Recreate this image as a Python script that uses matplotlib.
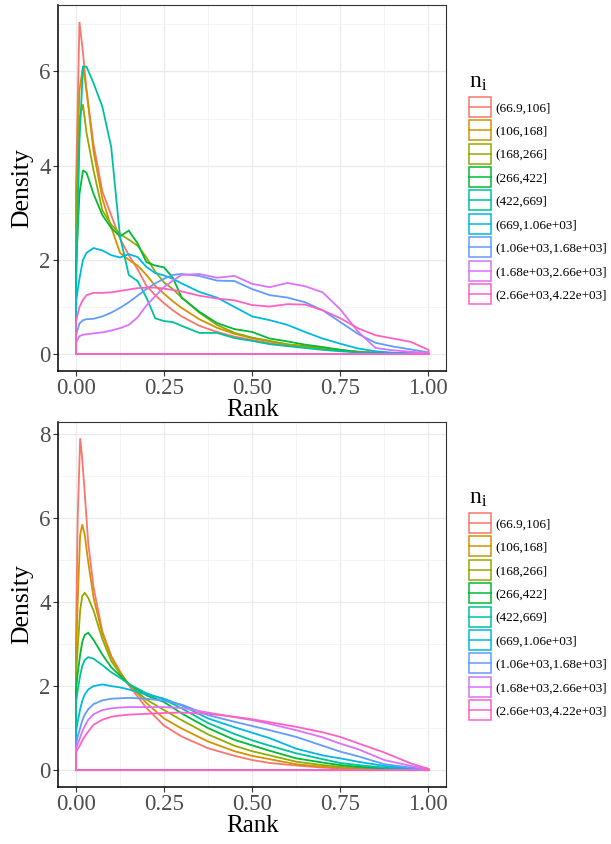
import matplotlib
matplotlib.use('Agg')
import matplotlib.pyplot as plt
from matplotlib.lines import Line2D
from matplotlib.patches import Rectangle
from matplotlib.legend_handler import HandlerBase

plt.rcParams['font.family'] = ['Liberation Serif', 'DejaVu Serif']
plt.rcParams['mathtext.fontset'] = 'custom'
plt.rcParams['mathtext.rm'] = 'Liberation Serif'
plt.rcParams['mathtext.it'] = 'Liberation Serif:italic'

# groups (n_i bins) and ggplot hue colours
groups = ['(66.9,106]', '(106,168]', '(168,266]', '(266,422]', '(422,669]',
          '(669,1.06e+03]', '(1.06e+03,1.68e+03]', '(1.68e+03,2.66e+03]',
          '(2.66e+03,4.22e+03]']
colors = ['#F8766D', '#D39200', '#93AA00', '#00BA38', '#00C19F',
          '#00B9E3', '#619CFF', '#DB72FB', '#FF61C3']

# top panel: density at these ranks
rank_top = [0, .01, .02, .03, .05, .075, .1, .125, .15, .175, .2, .225, .25, .275, .3,
            .35, .4, .45, .5, .55, .6, .65, .7, .75, .8, .85, .9, .95, 1.0]
top_red = [3.5, 7.05, 6.4, 5.6, 4.45, 3.45, 2.95, 2.45, 2.1, 1.8, 1.45, 1.25, 1.08, 0.93, 0.8,
           0.6, 0.47, 0.37, 0.3, 0.23, 0.18, 0.14, 0.11, 0.08, 0.05, 0.03, 0.02, 0.01, 0.005]
top_orange = [3.0, 5.6, 6.1, 5.6, 4.3, 3.3, 2.7, 2.15, 2.0, 1.88, 1.68, 1.45, 1.28, 1.12, 0.98,
              0.74, 0.56, 0.43, 0.34, 0.27, 0.2, 0.16, 0.12, 0.08, 0.05, 0.03, 0.02, 0.01, 0.005]
top_olive = [2.5, 5.0, 5.3, 4.7, 3.9, 3.05, 2.75, 2.55, 2.43, 2.3, 2.05, 1.75, 1.52, 1.38, 1.2,
             0.88, 0.62, 0.45, 0.35, 0.28, 0.21, 0.17, 0.13, 0.09, 0.05, 0.03, 0.02, 0.01, 0.005]
top_green = [1.8, 3.4, 3.9, 3.85, 3.4, 2.95, 2.68, 2.5, 2.62, 2.35, 1.95, 1.88, 1.84, 1.62, 1.2,
             0.9, 0.66, 0.53, 0.47, 0.33, 0.27, 0.2, 0.15, 0.09, 0.04, 0.02, 0.01, 0.005, 0.003]
top_teal = [1.2, 4.5, 6.1, 6.1, 5.75, 5.25, 4.4, 2.5, 1.68, 1.55, 1.2, 0.76, 0.7, 0.68, 0.6,
            0.45, 0.45, 0.34, 0.28, 0.21, 0.17, 0.13, 0.09, 0.06, 0.035, 0.02, 0.01, 0.005, 0.003]
top_cyan = [1.1, 1.6, 2.0, 2.15, 2.25, 2.2, 2.1, 2.05, 2.12, 2.06, 1.85, 1.72, 1.67, 1.6, 1.5,
            1.32, 1.2, 1.0, 0.8, 0.72, 0.62, 0.47, 0.33, 0.22, 0.12, 0.06, 0.03, 0.015, 0.01]
top_blue = [0.4, 0.65, 0.72, 0.74, 0.75, 0.8, 0.88, 0.98, 1.1, 1.24, 1.38, 1.5, 1.6, 1.68, 1.70,
            1.66, 1.56, 1.55, 1.38, 1.25, 1.2, 1.1, 0.93, 0.68, 0.43, 0.24, 0.16, 0.1, 0.035]
top_purple = [0.24, 0.38, 0.41, 0.42, 0.44, 0.46, 0.5, 0.55, 0.62, 0.78, 1.03, 1.23, 1.42, 1.56, 1.68,
              1.70, 1.62, 1.66, 1.49, 1.42, 1.51, 1.44, 1.31, 0.95, 0.48, 0.13, 0.08, 0.05, 0.02]
top_pink = [0.69, 1.0, 1.15, 1.25, 1.3, 1.3, 1.31, 1.34, 1.37, 1.4, 1.41, 1.41, 1.39, 1.36, 1.33,
            1.24, 1.18, 1.14, 1.04, 1.01, 1.06, 1.05, 0.93, 0.76, 0.55, 0.4, 0.33, 0.26, 0.09]

# bottom panel
rank_bot = [0, .005, .012, .018, .025, .035, .05, .075, .1, .125, .15, .2, .25, .3, .375,
            .45, .5, .55, .625, .7, .75, .8, .875, .95, 1.0]
bot_red = [3.0, 6.0, 7.9, 7.4, 6.6, 5.4, 4.35, 3.3, 2.72, 2.35, 2.02, 1.48, 1.06, 0.8, 0.52,
           0.34, 0.24, 0.17, 0.11, 0.06, 0.04, 0.025, 0.015, 0.01, 0.005]
bot_orange = [2.6, 4.0, 5.6, 5.85, 5.6, 4.95, 4.1, 3.25, 2.7, 2.32, 2.05, 1.6, 1.23, 0.99, 0.68,
              0.45, 0.34, 0.26, 0.14, 0.08, 0.05, 0.035, 0.015, 0.01, 0.005]
bot_olive = [2.2, 2.9, 3.8, 4.15, 4.22, 4.1, 3.8, 3.12, 2.6, 2.3, 2.04, 1.68, 1.43, 1.19, 0.85,
             0.58, 0.45, 0.35, 0.2, 0.12, 0.08, 0.05, 0.02, 0.01, 0.005]
bot_green = [1.9, 2.3, 2.75, 3.05, 3.22, 3.27, 3.1, 2.75, 2.45, 2.25, 2.05, 1.78, 1.62, 1.35, 1.0,
             0.72, 0.59, 0.46, 0.28, 0.18, 0.12, 0.08, 0.04, 0.015, 0.008]
bot_teal = [1.6, 1.9, 2.25, 2.48, 2.62, 2.69, 2.65, 2.5, 2.33, 2.2, 2.05, 1.83, 1.68, 1.47, 1.12,
            0.86, 0.71, 0.58, 0.4, 0.26, 0.17, 0.12, 0.06, 0.025, 0.01]
bot_cyan = [0.9, 1.15, 1.45, 1.65, 1.8, 1.92, 2.0, 2.04, 2.0, 1.97, 1.92, 1.8, 1.70, 1.54, 1.23,
            1.02, 0.89, 0.76, 0.51, 0.35, 0.28, 0.2, 0.1, 0.04, 0.015]
bot_blue = [0.6, 0.8, 1.0, 1.18, 1.32, 1.45, 1.57, 1.66, 1.7, 1.71, 1.72, 1.7, 1.65, 1.56, 1.31,
            1.15, 1.05, 0.95, 0.79, 0.58, 0.44, 0.33, 0.14, 0.06, 0.02]
bot_purple = [0.5, 0.62, 0.78, 0.92, 1.05, 1.2, 1.33, 1.43, 1.47, 1.49, 1.5, 1.5, 1.5, 1.48, 1.37,
              1.26, 1.19, 1.1, 0.95, 0.78, 0.63, 0.5, 0.24, 0.1, 0.03]
bot_pink = [0.42, 0.5, 0.6, 0.7, 0.8, 0.92, 1.08, 1.2, 1.27, 1.3, 1.32, 1.34, 1.36, 1.37, 1.34,
            1.27, 1.21, 1.14, 1.03, 0.9, 0.79, 0.64, 0.42, 0.16, 0.03]

top_series = [top_red, top_orange, top_olive, top_green, top_teal,
              top_cyan, top_blue, top_purple, top_pink]
bot_series = [bot_red, bot_orange, bot_olive, bot_green, bot_teal,
              bot_cyan, bot_blue, bot_purple, bot_pink]


class BoxKey(HandlerBase):
    # ggplot-like key: outlined square with a line through the middle
    def create_artists(self, legend, orig_handle, xdescent, ydescent,
                       width, height, fontsize, trans):
        c = orig_handle.get_color()
        box = Rectangle((-xdescent, -ydescent), width, height, facecolor='white',
                        edgecolor=c, lw=1.1, transform=trans)
        mid = Line2D([-xdescent, -xdescent + width], [-ydescent + height / 2] * 2,
                     color=c, lw=1.1, transform=trans)
        return [box, mid]


def draw_panel(ax, xs, series):
    for ys, c in zip(series, colors):
        # geom_density outline: curve, then down to 0 and back along the baseline
        px = list(xs) + [xs[-1], xs[0]]
        py = list(ys) + [0, 0]
        ax.fill(px, py, facecolor='none', edgecolor=c, lw=1.3)
    ymax = max(max(s) for s in series)
    top = 1.05 * ymax
    ax.set_xlim(-0.05, 1.05)
    ax.set_ylim(-0.05 * ymax, top)
    ax.set_xticks([0, 0.25, 0.5, 0.75, 1.0])
    ax.set_xticklabels(['0.00', '0.25', '0.50', '0.75', '1.00'])
    ax.set_yticks([v for v in range(0, 10, 2) if v <= top])
    ax.set_xticks([0.125, 0.375, 0.625, 0.875], minor=True)
    ax.set_yticks([v for v in range(1, 10, 2) if v <= top], minor=True)
    ax.grid(True, which='major', color='#EBEBEB', lw=1.0)
    ax.grid(True, which='minor', color='#F2F2F2', lw=0.6)
    ax.set_axisbelow(True)
    ax.tick_params(which='minor', length=0)
    ax.tick_params(which='major', length=3.5, width=0.8, color='#333333',
                   labelsize=16.5, labelcolor='#4D4D4D', pad=2)
    for s in ['top', 'right']:
        ax.spines[s].set_color('#333333')
        ax.spines[s].set_linewidth(0.8)
    for s in ['left', 'bottom']:
        ax.spines[s].set_color('black')
        ax.spines[s].set_linewidth(1.1)
    ax.set_xlabel('Rank', fontsize=18, labelpad=0)
    ax.set_ylabel('Density', fontsize=18.5, labelpad=4)

    handles = [Line2D([], [], color=c) for c in colors]
    cy = ax.get_position().y0 + ax.get_position().height / 2
    leg = ax.figure.legend(handles, groups, handler_map={Line2D: BoxKey()},
                           loc='center left', bbox_to_anchor=(469 / 611, cy),
                           bbox_transform=ax.figure.transFigure, frameon=False,
                           fontsize=9.5, handlelength=1.67, handleheight=1.955,
                           labelspacing=0.26, handletextpad=0.3, borderpad=0,
                           borderaxespad=0, title=r'$\mathrm{n_i}$',
                           title_fontsize=17, alignment='left')
    return leg


fig = plt.figure(figsize=(6.11, 8.44), dpi=100)
ax1 = fig.add_axes([58.3 / 611, 1 - 370.7 / 844, 387.7 / 611, 365.4 / 844])
ax2 = fig.add_axes([58.3 / 611, 1 - 786.7 / 844, 387.7 / 611, 365.0 / 844])

draw_panel(ax1, rank_top, top_series)
draw_panel(ax2, rank_bot, bot_series)

fig.savefig('out.png', dpi=100, facecolor='white')
